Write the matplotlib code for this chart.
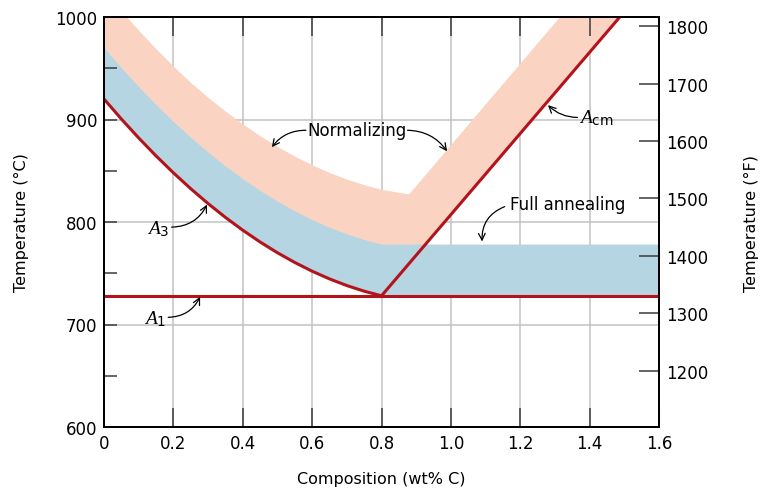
import numpy as np
import matplotlib
matplotlib.use("Agg")
import matplotlib.pyplot as plt

################################################# Data
# A3 line (wt% C -> deg C)
a3_x = [0.0, 0.05, 0.1, 0.15, 0.2, 0.25, 0.3, 0.35, 0.4, 0.45, 0.5, 0.55, 0.6, 0.65, 0.7, 0.75, 0.8]
a3_T = [920, 900.5, 882, 864.5, 848, 832.5, 818, 804.5, 792, 780.5, 770, 760.5, 752, 744.5, 738, 732.5, 728]
# upper edge of the full annealing band
anneal_x = [0.0, 0.05, 0.1, 0.15, 0.2, 0.25, 0.3, 0.35, 0.4, 0.45, 0.5, 0.55, 0.6, 0.65, 0.7, 0.75, 0.8, 1.6]
anneal_T = [970, 950.5, 932, 914.5, 898, 882.5, 868, 854.5, 842, 830.5, 820, 810.5, 802, 794.5, 788, 782.5, 778, 778]
# upper edge of the normalizing band
norm_x = [0.0, 0.05, 0.1, 0.15, 0.2, 0.25, 0.3, 0.35, 0.4, 0.45, 0.5, 0.55, 0.6, 0.65, 0.7, 0.75, 0.8, 0.85, 0.88, 1.315]
norm_T = [1026, 1006, 987, 969, 952, 936, 921.5, 908, 895.5, 884, 873.5, 864, 855.5, 848, 841.5, 836, 831.5, 828.5, 827, 1000]
# A1 and Acm
a1_x = [0.0, 1.6]
a1_T = [728, 728]
acm_x = [0.80, 1.487]
acm_T = [728, 1000]

C_ticks = [600, 700, 800, 900, 1000]
C_minor = [650, 750, 850, 950]
F_ticks = [1200, 1300, 1400, 1500, 1600, 1700, 1800]
x_ticks = [0, 0.2, 0.4, 0.6, 0.8, 1.0, 1.2, 1.4, 1.6]
x_ticklabels = ["0", "0.2", "0.4", "0.6", "0.8", "1.0", "1.2", "1.4", "1.6"]

red = "#b3141c"
pink = "#fbd3c2"
blue = "#b5d5e3"
gridc = "#c2c2c2"
tickc = "#3a3a3a"

plt.rcParams["font.family"] = "DejaVu Sans"
plt.rcParams["mathtext.fontset"] = "custom"
plt.rcParams["mathtext.it"] = "Liberation Serif:italic"
plt.rcParams["mathtext.rm"] = "DejaVu Sans"

################################################# Figure
fig = plt.figure(figsize=(7.66, 4.89), dpi=100)
ax = fig.add_axes([104 / 766, 1 - 428 / 489, 555 / 766, 410 / 489])
ax.set_xlim(0, 1.6)
ax.set_ylim(600, 1000)

# grid below the bands
for xv in x_ticks[1:-1]:
    ax.axvline(xv, color=gridc, lw=1.1, zorder=0.5)
for yv in C_ticks[1:-1]:
    ax.axhline(yv, color=gridc, lw=1.1, zorder=0.5)

# normalizing band (pink): top edge, then down Acm, then back along A3
px = list(norm_x) + [acm_x[1]] + [acm_x[0]] + a3_x[::-1]
py = list(norm_T) + [acm_T[1]] + [acm_T[0]] + a3_T[::-1]
ax.fill(px, py, color=pink, lw=0, zorder=1)

# full annealing band (blue)
bx = list(anneal_x) + [a1_x[1], acm_x[0]] + a3_x[::-1]
by = list(anneal_T) + [a1_T[1], acm_T[0]] + a3_T[::-1]
ax.fill(bx, by, color=blue, lw=0, zorder=1.1)

# phase boundaries
ax.plot(a3_x, a3_T, color=red, lw=2.2, zorder=3, solid_capstyle="butt", solid_joinstyle="round")
ax.plot(a1_x, a1_T, color=red, lw=2.2, zorder=3, solid_capstyle="butt")
ax.plot(acm_x, acm_T, color=red, lw=2.2, zorder=3, solid_capstyle="butt")

################################################# Axes styling
ax.set_xticks(x_ticks)
ax.set_xticklabels(x_ticklabels)
ax.set_yticks(C_ticks)
ax.set_yticks(C_minor, minor=True)
ax.tick_params(axis="x", which="both", direction="in", length=14, width=1.1, color=tickc,
               top=True, labelsize=12, pad=5)
ax.tick_params(axis="y", which="both", direction="in", length=9.5, width=1.1, color=tickc,
               labelsize=12, pad=5)
for s in ax.spines.values():
    s.set_linewidth(1.3)
ax.set_xlabel("Composition (wt% C)", fontsize=11.5, labelpad=14)
ax.set_ylabel("Temperature (\u00b0C)", fontsize=11.5, labelpad=19)

ax2 = ax.twinx()
ax2.set_ylim(1102, 1816)
ax2.set_yticks(F_ticks)
ax2.tick_params(axis="y", direction="in", length=14.5, width=1.1, color=tickc, labelsize=12, pad=5)
ax2.set_ylabel("Temperature (\u00b0F)", fontsize=11.5, labelpad=26)
for s in ax2.spines.values():
    s.set_linewidth(1.3)

################################################# Labels and arrows
arrow = dict(arrowstyle="->", color="black", lw=0.9, shrinkA=0, shrinkB=0,
             mutation_scale=12)

ax.text(0.729, 889.5, "Normalizing", fontsize=12, ha="center", va="center", zorder=5)
ax.annotate("", xy=(0.484, 873), xytext=(0.582, 889.5),
            arrowprops=dict(arrow, connectionstyle="arc3,rad=0.25"), zorder=5)
ax.annotate("", xy=(0.989, 869), xytext=(0.875, 889.5),
            arrowprops=dict(arrow, connectionstyle="arc3,rad=-0.25"), zorder=5)

ax.text(1.338, 817.5, "Full annealing", fontsize=12, ha="center", va="center", zorder=5)
ax.annotate("", xy=(1.09, 781), xytext=(1.155, 815),
            arrowprops=dict(arrow, connectionstyle="arc3,rad=0.35"), zorder=5)

ax.text(1.42, 902, r"$A_{\mathrm{cm}}$", fontsize=14, ha="center", va="center", zorder=5)
ax.annotate("", xy=(1.28, 914), xytext=(1.365, 902),
            arrowprops=dict(arrow, connectionstyle="arc3,rad=-0.2"), zorder=5)

ax.text(0.155, 794, r"$A_{3}$", fontsize=14, ha="center", va="center", zorder=5)
ax.annotate("", xy=(0.297, 817), xytext=(0.195, 795),
            arrowprops=dict(arrow, connectionstyle="arc3,rad=0.3"), zorder=5)

ax.text(0.147, 706, r"$A_{1}$", fontsize=14, ha="center", va="center", zorder=5)
ax.annotate("", xy=(0.277, 727), xytext=(0.185, 707),
            arrowprops=dict(arrow, connectionstyle="arc3,rad=0.3"), zorder=5)

fig.savefig("out.png", dpi=100)
